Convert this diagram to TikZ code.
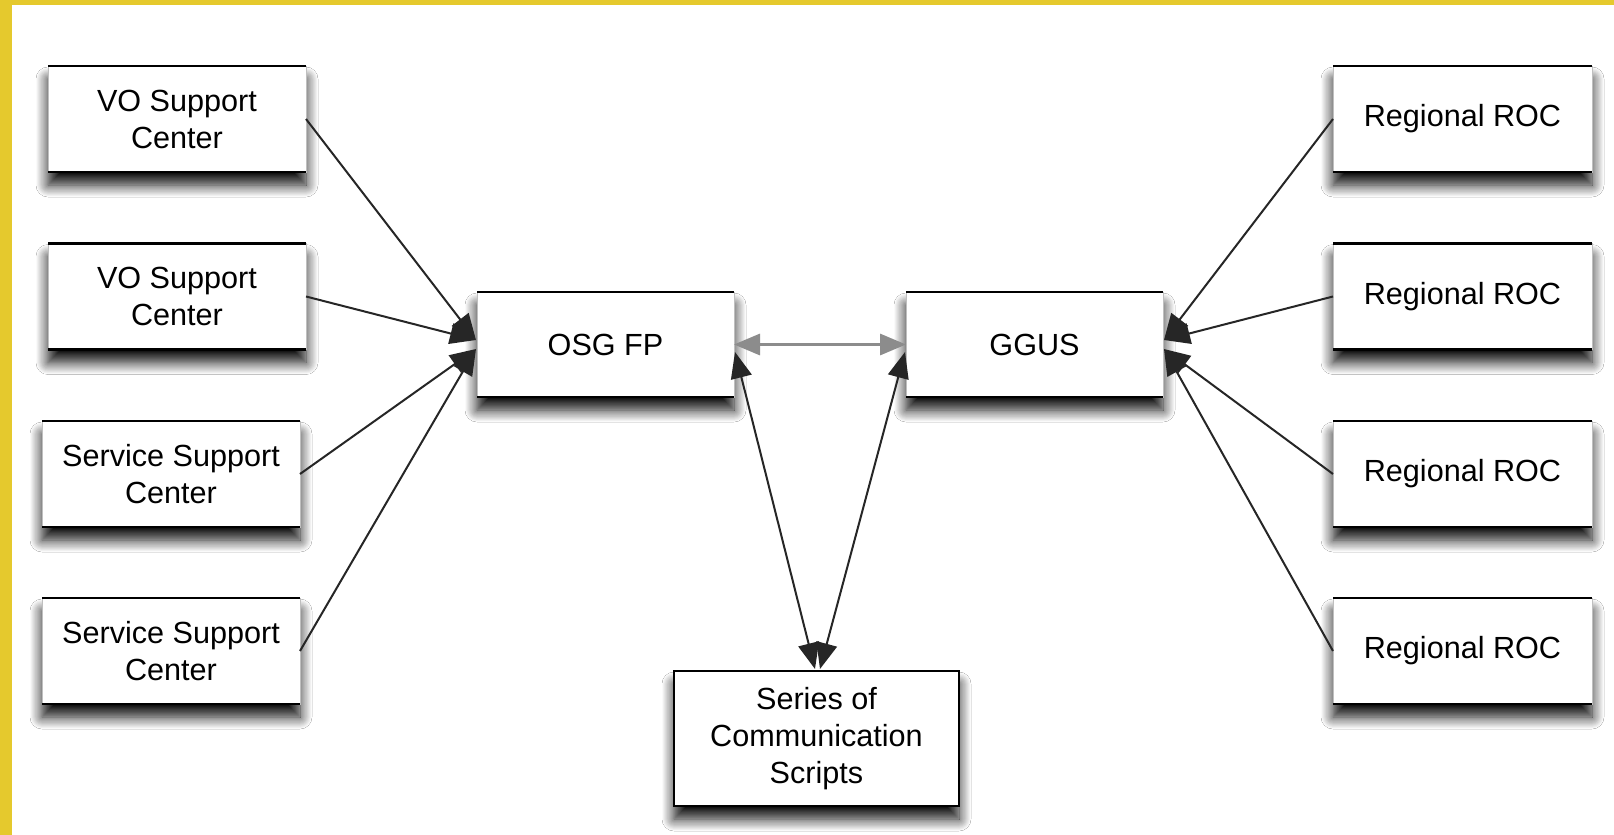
\documentclass[tikz,border=0pt]{standalone}
\usepackage{fontspec}
\setmainfont{Liberation Sans}
\usetikzlibrary{arrows.meta,shadows.blur}
\definecolor{frameyellow}{RGB}{229,201,45}
\tikzset{
  box/.style={rectangle, fill=white, draw=black!25, line width=0.4pt, inner sep=0pt, outer sep=0pt,
    minimum width=129pt, minimum height=53pt, align=center,
    font=\fontsize{15.3}{18.5}\selectfont,
    blur shadow={shadow xshift=0pt, shadow yshift=-6.5pt, shadow blur radius=6pt, shadow blur steps=12, shadow opacity=95}},
  fullbox/.style={box, draw=black, line width=1.35pt},
  edgeline/.style={black, line width=1.35pt},
  conn/.style={draw=black!85, line width=1pt, -{Triangle[length=13pt,width=10.5pt]}},
  bconn/.style={draw=black!85, line width=1pt, {Triangle[length=13pt,width=10.5pt]}-{Triangle[length=13pt,width=10.5pt]}},
  midconn/.style={draw=black!45, line width=1.6pt, {Triangle[length=13pt,width=10.5pt]}-{Triangle[length=13pt,width=10.5pt]}}
}
\begin{document}
\begin{tikzpicture}[x=0.5pt,y=-0.5pt]
\useasboundingbox (0,0) rectangle (1614,835);
\fill[frameyellow] (0,0) rectangle (1614,835);
\fill[white] (12,5) rectangle (1614,835);

% left column
\node[box] (vo1) at (177,119) {VO Support\\Center};
\node[box] (vo2) at (177,296.5) {VO Support\\Center};
\node[box] (ss1) at (171,474) {Service Support\\Center};
\node[box] (ss2) at (171,651) {Service Support\\Center};
% right column
\node[box, minimum width=129.5pt] (roc1) at (1462.5,119) {Regional ROC};
\node[box, minimum width=129.5pt] (roc2) at (1462.5,296.5) {Regional ROC};
\node[box, minimum width=129.5pt] (roc3) at (1462.5,474) {Regional ROC};
\node[box, minimum width=129.5pt] (roc4) at (1462.5,651) {Regional ROC};
% centre
\node[box, minimum width=128.5pt, minimum height=52.5pt] (osg) at (605.5,344.5) {OSG FP};
\node[box, minimum width=128.5pt, minimum height=52.5pt] (ggus) at (1034.5,344.5) {GGUS};
\node[fullbox, minimum width=142.5pt, minimum height=67.5pt] (ser) at (816.5,738.5) {Series of\\Communication\\Scripts};

% thick top and bottom edges
\foreach \n in {vo1,vo2,ss1,ss2,roc1,roc2,roc3,roc4,osg,ggus}{
  \draw[edgeline] (\n.north west) -- (\n.north east);
  \draw[edgeline] (\n.south west) -- (\n.south east);
}

% connector end points
\coordinate (osgT) at (476,340);
\coordinate (osgB) at (476,349);
\coordinate (ggT) at (1164,340);
\coordinate (ggB) at (1164,349);
\coordinate (osgSE) at (735,352);
\coordinate (ggSW) at (905,352);
\coordinate (serA) at (815,669);
\coordinate (serB) at (820,669);

\draw[conn] (vo1.east) -- (osgT);
\draw[conn] (vo2.east) -- (osgT);
\draw[conn] (ss1.east) -- (osgB);
\draw[conn] (ss2.east) -- (osgB);

\draw[conn] (roc1.west) -- (ggT);
\draw[conn] (roc2.west) -- (ggT);
\draw[conn] (roc3.west) -- (ggB);
\draw[conn] (roc4.west) -- (ggB);

\draw[midconn] (osg.east) -- (ggus.west);
\draw[bconn] (osgSE) -- (serA);
\draw[bconn] (ggSW) -- (serB);
\end{tikzpicture}
\end{document}
